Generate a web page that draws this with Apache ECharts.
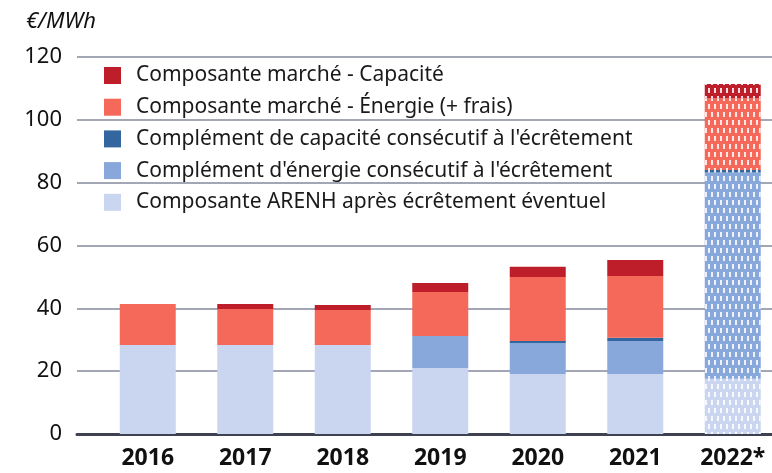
<!DOCTYPE html>
<html>
<head>
<meta charset="utf-8">
<script src="https://cdn.jsdelivr.net/npm/echarts@6/dist/echarts.min.js"></script>
<style>
  html, body { margin: 0; padding: 0; background: #fff; }
  #chart { width: 772px; height: 473px; }
</style>
</head>
<body>
<div id="chart"></div>
<script>
const years = ['2016', '2017', '2018', '2019', '2020', '2021', '2022*']

// €/MWh
const arenh = [28.3, 28.3, 28.3, 21.0, 19.1, 19.1, 17.6]
const complEnergie = [0, 0, 0, 10.2, 9.9, 10.5, 65.6]
const complCapacite = [0, 0, 0, 0, 0.6, 1.0, 0.8]
const marcheEnergie = [13.1, 11.5, 11.2, 14.0, 20.4, 19.7, 22.9]
const marcheCapacite = [0, 1.6, 1.6, 2.9, 3.2, 5.1, 4.5]

const yTicks = [0, 20, 40, 60, 80, 100, 120]

const font = 'Noto Sans'

// last year is an estimate: white dashes over the bar
const decal = {
  symbol: 'rect',
  symbolSize: 1,
  color: 'rgba(255,255,255,0.85)',
  dashArrayX: [[2, 4], [0, 3, 2, 1]],
  dashArrayY: [5, 3]
}

const withDecal = (values) =>
  values.map((v, i) => (i === values.length - 1 ? { value: v, itemStyle: { decal } } : v))

const makeSeries = (name, values, color) => ({
  name,
  type: 'bar',
  stack: 'total',
  xAxisIndex: 1,
  yAxisIndex: 1,
  barWidth: 56,
  itemStyle: { color },
  data: withDecal(values)
})

const chart = echarts.init(document.getElementById('chart'))

chart.setOption({
  animation: false,
  title: {
    text: '€/MWh',
    left: 21,
    top: 6,
    textStyle: { fontFamily: font, fontStyle: 'italic', fontWeight: 'normal', fontSize: 22, color: '#111' }
  },
  legend: {
    orient: 'vertical',
    left: 99,
    top: 60,
    itemWidth: 17,
    itemHeight: 17,
    itemGap: 10.7,
    icon: 'rect',
    selectedMode: false,
    textStyle: { fontFamily: font, fontSize: 21, color: '#1a1a1a', padding: [0, 0, 0, 10] },
    data: [
      'Composante marché - Capacité',
      'Composante marché - Énergie (+ frais)',
      'Complément de capacité consécutif à l\'écrêtement',
      'Complément d\'énergie consécutif à l\'écrêtement',
      'Composante ARENH après écrêtement éventuel'
    ]
  },
  grid: [
    { left: 77, right: 0, top: 57, bottom: 39, outerBoundsMode: 'none' },
    { left: 99, width: 682.5, top: 57, bottom: 39, outerBoundsMode: 'none' }
  ],
  xAxis: [
    {
      gridIndex: 0,
      type: 'value',
      min: 0,
      max: 1,
      axisLine: { show: true, lineStyle: { color: '#3e4150', width: 3 } },
      axisTick: { show: false },
      axisLabel: { show: false },
      splitLine: { show: false }
    },
    {
      gridIndex: 1,
      type: 'category',
      data: years,
      axisLine: { show: false },
      axisTick: { show: false },
      axisLabel: { margin: 13, fontFamily: font, fontWeight: 'bold', fontSize: 23, color: '#111' }
    }
  ],
  yAxis: [
    {
      gridIndex: 0,
      type: 'value',
      min: yTicks[0],
      max: yTicks[yTicks.length - 1],
      interval: 20,
      axisLine: { show: false },
      axisTick: { show: false },
      axisLabel: { margin: 15, fontFamily: font, fontSize: 22, color: '#111' },
      splitLine: { lineStyle: { color: '#a2a6b5', width: 2 } }
    },
    {
      gridIndex: 1,
      type: 'value',
      min: yTicks[0],
      max: yTicks[yTicks.length - 1],
      show: false,
      splitLine: { show: false }
    }
  ],
  series: [
    makeSeries('Composante ARENH après écrêtement éventuel', arenh, '#cad6ef'),
    makeSeries('Complément d\'énergie consécutif à l\'écrêtement', complEnergie, '#88a8dc'),
    makeSeries('Complément de capacité consécutif à l\'écrêtement', complCapacite, '#33669f'),
    makeSeries('Composante marché - Énergie (+ frais)', marcheEnergie, '#f4695a'),
    makeSeries('Composante marché - Capacité', marcheCapacite, '#be1e2a')
  ]
})

window.addEventListener('resize', () => chart.resize())
</script>
</body>
</html>
